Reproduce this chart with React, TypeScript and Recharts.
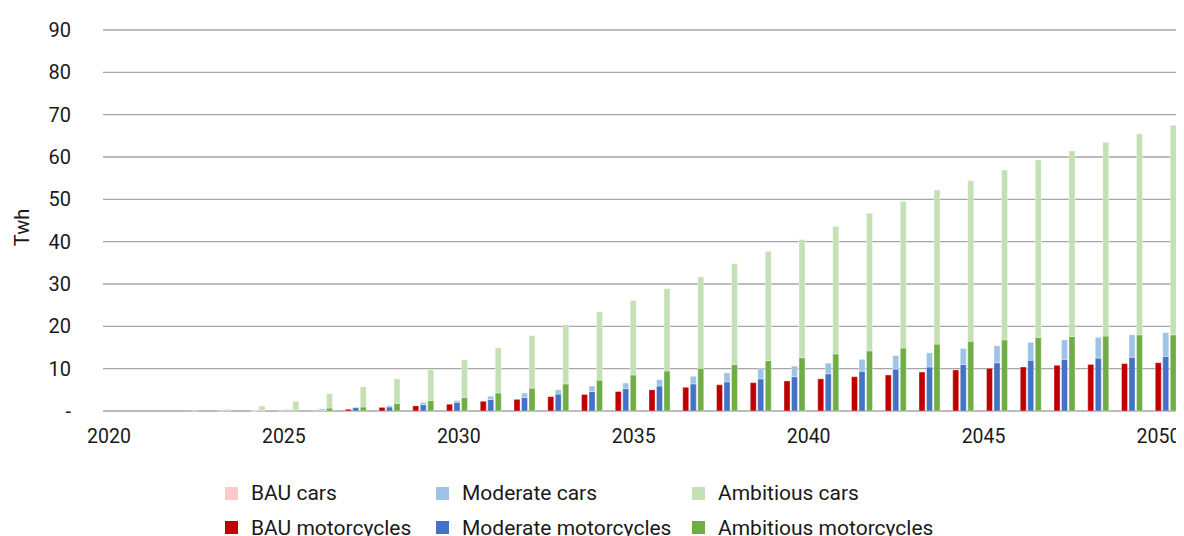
import React from 'react';
import { ComposedChart, Bar, Line, XAxis, YAxis, CartesianGrid, Legend } from 'recharts';

const years = [2019, 2020, 2021, 2022, 2023, 2024, 2025, 2026, 2027, 2028, 2029, 2030, 2031, 2032, 2033, 2034, 2035, 2036, 2037, 2038, 2039, 2040, 2041, 2042, 2043, 2044, 2045, 2046, 2047, 2048, 2049, 2050];

const bauMotorcycles = [0, 0, 0, 0, 0, 0.02, 0.05, 0.4, 0.85, 1.2, 1.6, 2.3, 2.75, 3.4, 3.9, 4.6, 5.0, 5.6, 6.2, 6.7, 7.1, 7.6, 8.1, 8.5, 9.2, 9.7, 10.1, 10.4, 10.8, 11.0, 11.2, 11.4];
const bauCars = [0, 0, 0, 0, 0, 0, 0, 0, 0, 0, 0, 0, 0, 0, 0, 0, 0, 0, 0, 0, 0, 0, 0, 0, 0, 0, 0, 0, 0, 0, 0, 0];
const moderateMotorcycles = [0, 0, 0, 0, 0.02, 0.1, 0.1, 0.8, 0.95, 1.5, 2.05, 2.7, 3.2, 4.0, 4.6, 5.3, 5.9, 6.4, 6.9, 7.6, 8.1, 8.8, 9.4, 9.9, 10.4, 11.0, 11.4, 12.0, 12.2, 12.5, 12.7, 12.9];
const moderateCars = [0, 0, 0, 0.05, 0.08, 0.25, 0.4, 0.15, 0.3, 0.5, 0.4, 0.8, 1.05, 1.0, 1.3, 1.3, 1.5, 1.8, 2.1, 2.4, 2.5, 2.5, 2.8, 3.2, 3.35, 3.75, 4.0, 4.2, 4.6, 4.9, 5.3, 5.6];
const ambitiousMotorcycles = [0, 0, 0, 0, 0.1, 0.2, 0.7, 0.95, 1.8, 2.5, 3.2, 4.25, 5.4, 6.4, 7.3, 8.5, 9.45, 10.1, 11.0, 11.9, 12.6, 13.5, 14.2, 14.9, 15.8, 16.5, 16.8, 17.4, 17.6, 17.7, 18.0, 18.0];
const ambitiousCars = [0, 0, 0.05, 0.4, 1.1, 2.1, 3.4, 4.75, 5.8, 7.3, 8.9, 10.65, 12.4, 14.0, 16.1, 17.6, 19.45, 21.6, 23.8, 25.8, 27.9, 30.1, 32.5, 34.6, 36.4, 37.9, 40.1, 41.9, 43.8, 45.8, 47.5, 49.5];

const xTickYears = [2020, 2025, 2030, 2035, 2040, 2045, 2050];
const yTicks = [0, 10, 20, 30, 40, 50, 60, 70, 80, 90];

const series = [
  { key: 'bauMoto', name: 'BAU motorcycles', stack: 'bau', color: '#C00000', values: bauMotorcycles },
  { key: 'bauCars', name: 'BAU cars', stack: 'bau', color: '#FFC9C9', values: bauCars },
  { key: 'modMoto', name: 'Moderate motorcycles', stack: 'mod', color: '#4472C4', values: moderateMotorcycles },
  { key: 'modCars', name: 'Moderate cars', stack: 'mod', color: '#9DC3E6', values: moderateCars },
  { key: 'ambMoto', name: 'Ambitious motorcycles', stack: 'amb', color: '#70AD47', values: ambitiousMotorcycles },
  { key: 'ambCars', name: 'Ambitious cars', stack: 'amb', color: '#C5E0B4', values: ambitiousCars },
];

const legendOrder = ['bauCars', 'modCars', 'ambCars', 'bauMoto', 'modMoto', 'ambMoto'];

const data = years.map((y, i) => {
  const row: any = { year: y, yearNum: y, none: null };
  series.forEach((s) => { row[s.key] = s.values[i]; });
  return row;
});

const FONT = 'Roboto, "DejaVu Sans", sans-serif';
const TEXT = '#1a1a1a';

const LegendContent = (props: any) => {
  const payload = props.payload || [];
  const byKey: Record<string, any> = {};
  payload.forEach((p: any) => { byKey[p.dataKey] = p; });
  return (
    <div style={{ display: 'grid', gridTemplateColumns: '211px 256px 300px', paddingLeft: 217, fontFamily: FONT, fontSize: 21, color: TEXT }}>
      {legendOrder.map((k) => {
        const p = byKey[k];
        const s = series.find((x) => x.key === k)!;
        return (
          <div key={k} style={{ display: 'flex', alignItems: 'center', height: 34.5, whiteSpace: 'nowrap' }}>
            <span style={{ display: 'inline-block', width: 13, height: 13, background: p ? p.color : s.color, marginRight: 13 }} />
            <span>{p ? p.value : s.name}</span>
          </div>
        );
      })}
    </div>
  );
};

const YLabel = (props: any) => {
  const vb = props.viewBox || { x: 0, y: 0, height: 0 };
  const cx = 13.5;
  const cy = vb.y + vb.height / 2 + 7;
  return (
    <text x={cx} y={cy} transform={`rotate(-90, ${cx}, ${cy})`} textAnchor="middle" dominantBaseline="central" fontFamily={FONT} fontSize={20} fill={TEXT}>
      Twh
    </text>
  );
};

export default function App() {
  return (
    <ComposedChart width={1176} height={528} data={data} margin={{ top: 22, right: 1, left: 0, bottom: 95 }} barGap={1.5}>
      <CartesianGrid horizontal vertical={false} stroke="#A6A6A6" strokeWidth={1.3} xAxisId="cat" yAxisId="y" />
      <XAxis xAxisId="cat" dataKey="year" type="category" hide height={0} />
      <XAxis
        xAxisId="lbl"
        dataKey="yearNum"
        type="number"
        domain={[2019.83, 2050.7]}
        allowDataOverflow
        ticks={xTickYears}
        interval={0}
        axisLine={false}
        tickLine={false}
        tickMargin={12}
        height={30}
        tick={{ fontFamily: FONT, fontSize: 19.5, fill: TEXT }}
      />
      <YAxis
        yAxisId="y"
        width={95}
        domain={[0, 90]}
        ticks={yTicks}
        interval={0}
        axisLine={false}
        tickLine={false}
        tickMargin={26}
        tickFormatter={(v: number) => (v === 0 ? '-' : String(v))}
        tick={{ fontFamily: FONT, fontSize: 20, fill: TEXT }}
        label={<YLabel />}
      />
      <Legend
        verticalAlign="middle"
        align="center"
        layout="horizontal"
        wrapperStyle={{ top: 468, left: 0 }}
        content={<LegendContent />}
      />
      {series.map((s) => (
        <Bar
          key={s.key}
          dataKey={s.key}
          name={s.name}
          stackId={s.stack}
          fill={s.color}
          xAxisId="cat"
          yAxisId="y"
          barSize={6}
          stroke="#ffffff"
          strokeOpacity={0.6}
          strokeWidth={0.6}
          isAnimationActive={false}
        />
      ))}
      <Line
        dataKey="none"
        xAxisId="lbl"
        yAxisId="y"
        stroke="none"
        dot={false}
        activeDot={false}
        legendType="none"
        isAnimationActive={false}
      />
    </ComposedChart>
  );
}
